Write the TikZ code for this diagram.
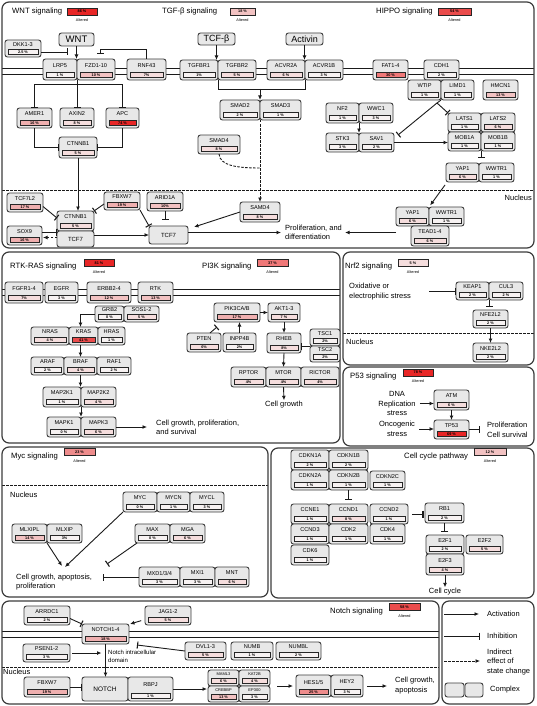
\documentclass[tikz,border=0pt]{standalone}
\usepackage{fontspec}
\setmainfont{Liberation Sans}
\usetikzlibrary{arrows.meta,calc}
\definecolor{linec}{HTML}{1A1A1A}
\definecolor{panelc}{HTML}{3C3C3C}
\definecolor{boxd}{HTML}{3E3E3E}
\definecolor{boxf}{HTML}{E8E8E8}
\definecolor{p0}{HTML}{F7F2F2}
\definecolor{p1}{HTML}{F5DDDD}
\definecolor{p2}{HTML}{F2C2C2}
\definecolor{p2b}{HTML}{EFAFAF}
\definecolor{p3}{HTML}{EE8C8C}
\definecolor{p3b}{HTML}{F07878}
\definecolor{p4}{HTML}{EA4C4C}
\definecolor{p5}{HTML}{E82626}
\tikzset{
 panel/.style={draw=panelc, line width=1.2pt, rounded corners=7pt},
 memb/.style={draw=linec, line width=0.8pt},
 nucl/.style={draw=linec, line width=0.8pt, dash pattern=on 2.5pt off 1.5pt},
 genebox/.style={draw=boxd, fill=boxf, line width=0.9pt, rounded corners=2.5pt, inner sep=0pt, outer sep=0pt},
 genename/.style={font=\fontsize{5.6}{6}\selectfont, inner sep=0pt},
 gbar/.style={draw=black!85, line width=0.6pt, minimum height=5.5pt, inner sep=0pt, outer sep=0pt, font=\fontsize{3.8}{4}\selectfont\bfseries},
 tbar/.style={draw=black!85, line width=0.6pt, minimum height=7pt, inner sep=0pt, font=\fontsize{3.8}{4}\selectfont\bfseries},
 alt/.style={font=\fontsize{3.8}{4}\selectfont, inner sep=0pt},
 title/.style={font=\fontsize{7.7}{9}\selectfont, inner sep=0pt, anchor=west},
 txt/.style={font=\fontsize{7.5}{9.6}\selectfont, inner sep=1pt, align=left},
 ctxt/.style={font=\fontsize{7.5}{9.6}\selectfont, inner sep=1pt, align=center},
 line/.style={draw=linec, line width=0.9pt},
 act/.style={line, -{Latex[length=4.5pt,width=4pt]}},
 inh/.style={line, -{Bar[width=7pt,line width=1.1pt]}},
 indir/.style={act, dash pattern=on 2.5pt off 1.5pt},
 dl/.style={line, dash pattern=on 2.5pt off 1.5pt},
}
\newcommand\gene[8]{%
 \pgfmathsetmacro\gcx{(#2+#4)/2}%
 \pgfmathsetmacro\gcy{(#3+#5)/2}%
 \pgfmathsetmacro\gw{#4-#2}%
 \pgfmathsetmacro\gh{#5-#3}%
 \pgfmathsetmacro\gny{(#3+#5-8)/2}%
 \pgfmathsetmacro\gby{#5-5.25}%
 \pgfmathsetmacro\gbw{#4-#2-6}%
 \node[genebox,minimum width=\gw pt,minimum height=\gh pt] (#1) at (\gcx,\gcy) {};%
 \node[genename] (#1-t) at (\gcx,\gny) {#6};%
 \node[gbar,minimum width=\gbw pt,fill=#7] (#1-b) at (\gcx,\gby) {#8};%
}
\newcommand\lbl[7]{%
 \pgfmathsetmacro\gcx{(#2+#4)/2}%
 \pgfmathsetmacro\gcy{(#3+#5)/2}%
 \pgfmathsetmacro\gw{#4-#2}%
 \pgfmathsetmacro\gh{#5-#3}%
 \node[genebox,minimum width=\gw pt,minimum height=\gh pt,font=#7] (#1) at (\gcx,\gcy) {#6};%
}
\begin{document}
\begin{tikzpicture}[x=1pt,y=-1pt]
\useasboundingbox (0,0) rectangle (536,706);
\fill[white] (0,0) rectangle (536,706);

% ---------- membranes and nucleus lines ----------
\draw[memb] (2,68) -- (534,68);
\draw[memb] (2,74) -- (534,74);
\draw[nucl] (2,190) -- (534,190);
\draw[memb] (2,289) -- (340,289);
\draw[memb] (2,295) -- (340,295);
\draw[nucl] (343,333) -- (534,333);
\draw[nucl] (2,485) -- (268,485);
\draw[memb] (2,631) -- (439,631);
\draw[memb] (2,637) -- (439,637);
\draw[nucl] (2,667) -- (439,667);

% ---------- panels ----------
\draw[panel] (2,2) rectangle (534,248);
\draw[panel] (2,252) rectangle (340,443);
\draw[panel] (343,252) rectangle (534,365);
\draw[panel] (343,367) rectangle (534,446);
\draw[panel] (2,447) rectangle (268,597);
\draw[panel] (271,448) rectangle (534,598);
\draw[panel] (2,601) rectangle (439,704);
\draw[panel] (442,601) rectangle (534,704);

% ---------- titles ----------
\node[title] (wntT) at (12,12) {WNT signaling};
\node[tbar,minimum width=30pt,fill=p5] (wntB) at (82,11.5) {86 \%};
\node[alt] (wntA) at (82,20) {Altered};
\node[title] (tgfT) at (162,12) {TGF-β signaling};
\node[tbar,minimum width=25pt,fill=p2] (tgfB) at (242.5,11.5) {18 \%};
\node[alt] (tgfA) at (242.5,20) {Altered};
\node[title] (hipT) at (376,12) {HIPPO signaling};
\node[tbar,minimum width=33pt,fill=p4] (hipB) at (454.5,11.5) {54 \%};
\node[alt] (hipA) at (454.5,20) {Altered};
\node[title] (rtkT) at (10,267) {RTK-RAS signaling};
\node[tbar,minimum width=30pt,fill=p5] (rtkB) at (99,263) {81 \%};
\node[alt] (rtkA) at (99,272) {Altered};
\node[title] (pikT) at (202,267) {PI3K signaling};
\node[tbar,minimum width=31pt,fill=p3b] (pikB) at (272.5,263) {37 \%};
\node[alt] (pikA) at (272.5,272) {Altered};
\node[title] (nrfT) at (345,267) {Nrf2 signaling};
\node[tbar,minimum width=30pt,fill=p1] (nrfB) at (413,263) {5 \%};
\node[alt] (nrfA) at (413,272) {Altered};
\node[title] (p53T) at (350,377) {P53 signaling};
\node[tbar,minimum width=30pt,fill=p5] (p53B) at (418,372.5) {78 \%};
\node[alt] (p53A) at (418,381.5) {Altered};
\node[title] (mycT0) at (11,457) {Myc signaling};
\node[tbar,minimum width=31pt,fill=p3] (mycB) at (79.5,452) {23 \%};
\node[alt] (mycA) at (79.5,461) {Altered};
\node[title] (ccT) at (404,457) {Cell cycle pathway};
\node[tbar,minimum width=32pt,fill=p2] (ccB) at (490,452) {12 \%};
\node[alt] (ccA) at (490,461) {Altered};
\node[title] (notT) at (330,612) {Notch signaling};
\node[tbar,minimum width=31pt,fill=p4] (notB) at (404.5,607) {58 \%};
\node[alt] (notA) at (404.5,616) {Altered};

% ---------- nucleus labels ----------
\node[txt,anchor=east] (nuc1) at (533,198) {Nucleus};
\node[txt,anchor=west] (nuc2) at (345,342) {Nucleus};
\node[txt,anchor=west] (nuc3) at (9,495) {Nucleus};
\node[txt,anchor=west] (nuc4) at (2,672) {Nucleus};

% ---------- WNT ----------
\lbl{wnt}{59}{33}{94}{46}{WNT}{\fontsize{9.5}{10}\selectfont}
\gene{dkk}{5}{40}{41}{57}{DKK1-3}{p0}{2.5 \%}
\gene{lrp5}{43}{59}{77}{80}{LRP5}{p0}{1 \%}
\gene{fzd}{77}{59}{115}{80}{FZD1-10}{p2}{10 \%}
\gene{rnf}{127}{59}{166}{80}{RNF43}{p1}{7\%}
\gene{amer}{17}{108}{52}{128}{AMER1}{p2b}{16 \%}
\gene{axin}{60}{108}{94}{128}{AXIN2}{p1}{8 \%}
\gene{apc}{106}{108}{139}{128}{APC}{p5}{74 \%}
\gene{ctnnb}{59}{137}{97}{158}{CTNNB1}{p1}{5 \%}
% nucleus WNT
\gene{tcf7l2}{7}{193}{43}{212}{TCF7L2}{p2b}{17 \%}
\gene{ctnnbn}{57}{211}{94}{231}{CTNNB1}{p1}{5 \%}
\lbl{tcf7a}{57}{231}{94}{247}{TCF7}{\fontsize{6}{7}\selectfont}
\gene{sox9}{7}{226}{42}{245}{SOX9}{p2b}{16 \%}
\gene{fbxw7}{104}{192}{140}{210}{FBXW7}{p2b}{19 \%}
\gene{arid}{147}{192}{183}{211}{ARID1A}{p2}{10\%}
\lbl{tcf7b}{149}{226}{188}{244}{TCF7}{\fontsize{6}{7}\selectfont}
\gene{samd4}{240}{202}{280}{222}{SAMD4}{p1}{8 \%}
\node[txt,anchor=west] (prolif) at (284,232.5) {Proliferation, and\\differentiation};

% ---------- TGF-beta ----------
\lbl{tcfb}{198}{33}{235}{45}{TCF-β}{\fontsize{9}{10}\selectfont}
\lbl{activin}{286}{33}{323}{45}{Activin}{\fontsize{9}{10}\selectfont}
\gene{tgfbr1}{180}{60}{218}{80}{TGFBR1}{p0}{1\%}
\gene{tgfbr2}{218}{60}{256}{80}{TGFBR2}{p1}{5 \%}
\gene{acvr2a}{267}{60}{305}{80}{ACVR2A}{p1}{6 \%}
\gene{acvr1b}{305}{60}{343}{80}{ACVR1B}{p0}{3 \%}
\gene{smad2}{220}{100}{260}{120}{SMAD2}{p0}{2 \%}
\gene{smad3}{260}{100}{301}{120}{SMAD3}{p0}{1 \%}
\gene{smad4}{198}{135}{240}{154}{SMAD4}{p1}{8 \%}

% ---------- HIPPO ----------
\gene{fat}{373}{60}{408}{80}{FAT1-4}{p3b}{30 \%}
\gene{cdh1}{424}{60}{459}{80}{CDH1}{p0}{2 \%}
\gene{wtip}{408}{80}{441}{100}{WTIP}{p0}{1 \%}
\gene{limd1}{441}{80}{474}{100}{LIMD1}{p0}{1 \%}
\gene{hmcn1}{483}{80}{518}{100}{HMCN1}{p2}{13 \%}
\gene{nf2}{326}{103}{359}{123}{NF2}{p0}{1 \%}
\gene{wwc1}{359}{103}{393}{123}{WWC1}{p0}{3 \%}
\gene{stk3}{326}{133}{359}{152}{STK3}{p0}{3 \%}
\gene{sav1}{359}{133}{394}{152}{SAV1}{p0}{2 \%}
\gene{lats1}{448}{113}{481}{132}{LATS1}{p0}{1 \%}
\gene{lats2}{481}{113}{515}{132}{LATS2}{p1}{6 \%}
\gene{mob1a}{448}{132}{481}{151}{MOB1A}{p0}{1 \%}
\gene{mob1b}{481}{132}{515}{151}{MOB1B}{p0}{1 \%}
\gene{yap1c}{446}{163}{479}{182}{YAP1}{p1}{6 \%}
\gene{wwtr1c}{479}{163}{514}{182}{WWTR1}{p0}{1 \%}
\gene{yap1n}{396}{207}{429}{226}{YAP1}{p1}{6 \%}
\gene{wwtr1n}{429}{207}{464}{226}{WWTR1}{p0}{1 \%}
\gene{tead}{411}{226}{449}{246}{TEAD1-4}{p1}{6 \%}

% ---------- RTK-RAS ----------
\gene{fgfr}{5}{282}{43}{303}{FGFR1-4}{p1}{7\%}
\gene{egfr}{45}{282}{78}{303}{EGFR}{p0}{3 \%}
\gene{erbb}{87}{282}{131}{303}{ERBB2-4}{p2}{12 \%}
\gene{rtk}{138}{282}{173}{303}{RTK}{p2}{13 \%}
\gene{grb2}{95}{306}{124}{322}{GRB2}{p0}{0 \%}
\gene{sos}{124}{306}{159}{322}{SOS1-2}{p1}{5 \%}
\gene{nras}{31}{327}{69}{345}{NRAS}{p1}{4 \%}
\gene{kras}{69}{327}{98}{345}{KRAS}{p4}{41 \%}
\gene{hras}{98}{327}{125}{345}{HRAS}{p0}{1 \%}
\gene{araf}{31}{357}{64}{375}{ARAF}{p0}{2 \%}
\gene{braf}{64}{357}{97}{375}{BRAF}{p1}{4 \%}
\gene{raf1}{97}{357}{131}{375}{RAF1}{p0}{2 \%}
\gene{map2k1}{43}{387}{81}{407}{MAP2K1}{p0}{1 \%}
\gene{map2k2}{81}{387}{116}{407}{MAP2K2}{p1}{4 \%}
\gene{mapk1}{47}{417}{81}{437}{MAPK1}{p0}{0 \%}
\gene{mapk3}{81}{417}{116}{437}{MAPK3}{p1}{6 \%}
\node[txt,anchor=west] (cgp) at (155,427.5) {Cell growth, proliferation,\\and survival};

% ---------- PI3K ----------
\gene{pik3}{214}{303}{260}{322}{PIK3CA/B}{p2b}{17 \%}
\gene{akt}{268}{303}{300}{322}{AKT1-3}{p1}{7 \%}
\gene{pten}{187}{333}{221}{352}{PTEN}{p1}{6\%}
\gene{inpp}{223}{333}{256}{352}{INPP4B}{p0}{2\%}
\gene{rheb}{267}{333}{301}{353}{RHEB}{p1}{8\%}
\gene{tsc1}{310}{329}{340}{346}{TSC1}{p0}{2\%}
\gene{tsc2}{310}{346}{340}{362}{TSC2}{p0}{2\%}
\gene{rptor}{231}{367}{266}{387}{RPTOR}{p1}{4\%}
\gene{mtor}{266}{367}{301}{387}{MTOR}{p1}{4\%}
\gene{rictor}{301}{367}{339}{387}{RICTOR}{p1}{4\%}
\node[ctxt] (cg) at (284,405) {Cell growth};

% ---------- Nrf2 ----------
\node[txt,anchor=west] (oxid) at (348,291.5) {Oxidative or\\electrophilic stress};
\gene{keap}{456}{282}{489}{300}{KEAP1}{p0}{2 \%}
\gene{cul3}{489}{282}{523}{300}{CUL3}{p0}{2 \%}
\gene{nfe}{473}{310}{508}{328}{NFE2L2}{p0}{2 \%}
\gene{nke}{473}{343}{508}{362}{NKE2L2}{p0}{2 \%}

% ---------- P53 ----------
\node[ctxt] (dna) at (397,403.5) {DNA\\Replication\\stress};
\node[ctxt] (onco) at (397,429) {Oncogenic\\stress};
\gene{atm}{434}{390}{469}{410}{ATM}{p1}{6 \%}
\gene{tp53}{434}{420}{469}{439}{TP53}{p5}{69 \%}
\node[txt,anchor=west] (prolif2) at (486,430) {Proliferation\\Cell survival};

% ---------- Myc ----------
\gene{myc}{123}{492}{157}{512}{MYC}{p0}{0 \%}
\gene{mycn}{157}{492}{190}{512}{MYCN}{p0}{1 \%}
\gene{mycl}{190}{492}{224}{512}{MYCL}{p0}{3 \%}
\gene{mlxipl}{12}{524}{47}{543}{MLXIPL}{p2}{14 \%}
\gene{mlxip}{47}{524}{82}{543}{MLXIP}{p0}{3\%}
\gene{max}{135}{524}{170}{543}{MAX}{p0}{0 \%}
\gene{mga}{170}{524}{205}{543}{MGA}{p1}{6 \%}
\gene{mxd}{139}{567}{180}{587}{MXD1/3/4}{p0}{3 \%}
\gene{mxi1}{180}{567}{215}{587}{MXI1}{p0}{3 \%}
\gene{mnt}{215}{567}{249}{587}{MNT}{p1}{6 \%}
\node[txt,anchor=west] (cga) at (15,582) {Cell growth, apoptosis,\\proliferation};

% ---------- Cell cycle ----------
\gene{cdkn1a}{291}{450}{329}{470}{CDKN1A}{p0}{2 \%}
\gene{cdkn1b}{329}{450}{368}{470}{CDKN1B}{p0}{2 \%}
\gene{cdkn2a}{291}{470}{329}{490}{CDKN2A}{p0}{1 \%}
\gene{cdkn2b}{329}{470}{368}{490}{CDKN2B}{p0}{1 \%}
\gene{cdkn2c}{370}{471}{405}{490}{CDKN2C}{p0}{1 \%}
\gene{ccne1}{291}{504}{329}{524}{CCNE1}{p0}{1 \%}
\gene{ccnd1}{329}{504}{368}{524}{CCND1}{p1}{8 \%}
\gene{ccnd2}{370}{504}{408}{524}{CCND2}{p0}{1 \%}
\gene{ccnd3}{291}{524}{329}{544}{CCND3}{p0}{1 \%}
\gene{cdk2}{329}{524}{368}{544}{CDK2}{p0}{1 \%}
\gene{cdk4}{370}{524}{405}{544}{CDK4}{p0}{1 \%}
\gene{cdk6}{291}{545}{329}{565}{CDK6}{p0}{1 \%}
\gene{rb1}{425}{503}{464}{523}{RB1}{p0}{2 \%}
\gene{e2f1}{426}{535}{464}{554}{E2F1}{p0}{2 \%}
\gene{e2f2}{466}{535}{503}{554}{E2F2}{p1}{5 \%}
\gene{e2f3}{426}{554}{464}{575}{E2F3}{p1}{4 \%}
\node[ctxt] (cc) at (445,592) {Cell cycle};

% ---------- Notch ----------
\gene{arrdc}{24}{606}{70}{625}{ARRDC1}{p0}{2 \%}
\gene{jag}{145}{606}{191}{625}{JAG1-2}{p1}{5 \%}
\gene{notch14}{82}{624}{129}{644}{NOTCH1-4}{p2b}{18 \%}
\gene{psen}{23}{644}{70}{662}{PSEN1-2}{p0}{3 \%}
\node[txt,anchor=west,font=\fontsize{6}{8}\selectfont] (nicd) at (107,656.5) {Notch intracellular\\domain};
\gene{dvl}{185}{642}{226}{660}{DVL1-3}{p1}{5 \%}
\gene{numb}{231}{642}{273}{660}{NUMB}{p0}{1 \%}
\gene{numbl}{276}{642}{321}{660}{NUMBL}{p0}{2 \%}
\gene{fbxw7n}{24}{677}{70}{697}{FBXW7}{p2b}{19 \%}
\lbl{notch}{82}{677}{128}{701}{NOTCH}{\fontsize{6.5}{7}\selectfont}
\gene{rbpj}{128}{677}{173}{701}{RBPJ}{p0}{1 \%}
\begin{scope}[genename/.append style={font=\fontsize{4}{4.5}\selectfont}]
\gene{maml3}{208}{670}{239}{686}{MAML3}{p1}{6 \%}
\gene{kat2b}{239}{670}{270}{686}{KAT2B}{p1}{4 \%}
\gene{crebbp}{208}{686}{239}{702}{CREBBP}{p2}{13 \%}
\gene{ep300}{239}{686}{270}{702}{EP300}{p0}{3 \%}
\end{scope}
\gene{hes}{296}{675}{331}{697}{HES1/5}{p3}{25 \%}
\gene{hey2}{331}{675}{363}{697}{HEY2}{p0}{3 \%}
\node[txt,anchor=west] (cgapo) at (394,685.5) {Cell growth,\\apoptosis};

% ---------- Legend ----------
\node[txt,anchor=west] (lg1) at (486,614) {Activation};
\node[txt,anchor=west] (lg2) at (486,636) {Inhibition};
\node[txt,anchor=west] (lg3) at (486,662) {Indirect\\effect of\\state change};
\node[txt,anchor=west] (lg4) at (489,690) {Complex};
\coordinate (lg1s) at (444,614);
\coordinate (lg2s) at (444,636);
\coordinate (lg3s) at (444,661);
\draw[act,shorten >=7pt] (lg1s) -- (lg1.west);
\draw[inh,shorten >=6pt] (lg2s) -- (lg2.west);
\draw[indir,shorten >=6pt] (lg3s) -- (lg3s -| lg3.west);
\lbl{lc1}{445}{683}{464}{697}{}{\tiny}
\lbl{lc2}{465}{683}{483}{697}{}{\tiny}

% ================= connectors =================
% WNT
\coordinate (dkkT) at (68,52);
\draw[inh] (dkk.east |- dkkT) -- (dkkT);
\draw[act] (wnt.south) -- (wnt.south |- lrp5.north);
\coordinate (rnfT) at (100,54);
\draw[inh] (rnf.north) -- ++(0,-10) -| (rnfT);
\coordinate (wb) at (77,84);
\draw[line] (lrp5.south east) -- (wb);
\draw[inh] (wb) -| (amer.north);
\draw[inh] (wb) -- (wb |- axin.north);
\draw[inh] (wb) -| (apc.north);
\draw[inh] (amer.south) |- (ctnnb.west);
\draw[inh] (apc.south) |- (ctnnb.east);
\draw[act] (ctnnb.south) -- (ctnnb.south |- ctnnbn.north);
\draw[inh] ([yshift=-4pt]tcf7l2.east) -- ([yshift=3pt]ctnnbn.west);
\draw[inh] ([yshift=-3pt]fbxw7.west) -- (ctnnbn.north east);
\draw[inh] (fbxw7.south east) -- (tcf7b.north west);
\draw[inh] (arid.south) -- ++(0,9);
\draw[inh] ([yshift=3.5pt]sox9.east) -- ++(15,0);
\draw[indir] ([yshift=-2pt]sox9.east) ++(15,0) -- ++(-14,0);
\draw[act] (tcf7b.west -| tcf7a.east) -- (tcf7b.west);
\draw[act] (samd4.west) -- ([xshift=6pt,yshift=-1pt]tcf7b.north east);
\draw[act,shorten >=3pt] (tcf7b.east |- prolif.west) -- (prolif.west);
\draw[act,shorten >=2pt] (yap1n.west |- prolif.east) -- (prolif.east);
% TGF
\draw[act] (tcfb.south) -- (tcfb.south |- tgfbr1.north);
\draw[act] (activin.south) -- (activin.south |- acvr2a.north);
\draw[line] (tgfbr1.south east) -- ++(0,9) -| (acvr2a.south east);
\coordinate (tj) at (260,89);
\draw[act] (tj) -- (smad2.north east);
\draw[indir] (smad2.south east) -- (samd4.north);
\coordinate (sm4j) at (260,168);
\draw[dl] (smad4.south) .. controls (220,166) and (238,168) .. (sm4j);
% HIPPO
\draw[act] (nf2.south east) -- (stk3.north east);
\draw[act] (sav1.east) -- (sav1.east -| mob1a.west);
\coordinate (wl) at (437,103);
\draw[line] (wtip.south east) -- (wl);
\draw[inh] (wl) -- (lats1.north west);
\draw[inh] (wl) -- ([xshift=4pt,yshift=-2pt]sav1.north east);
\draw[inh] (mob1a.south east) -- ++(0,7);
\draw[act,shorten >=2pt] ([xshift=-1pt,yshift=-3pt]yap1c.south west) -- (yap1n.north east);
% RTK
\draw[act] (grb2.west) -| (braf.north |- kras.north);
\draw[act] (braf.north |- kras.south) -- (braf.north);
\draw[act] (braf.south) -- (braf.south |- map2k1.north);
\draw[act] (map2k1.south east) -- (mapk1.north east);
\draw[act,shorten >=8pt] (mapk3.east) -- (mapk3.east -| cgp.west);
% PI3K
\draw[act] (pik3.east) -- (akt.west);
\draw[inh] ([xshift=6pt]pten.north) -- ([xshift=3pt,yshift=-5pt]pik3.south west);
\draw[act] (inpp.north) -- (inpp.north |- pik3.south);
\draw[act] (akt.south) -- (akt.south |- rheb.north);
\draw[inh] (tsc1.south west) -- (tsc1.south west -| rheb.east);
\draw[act] (rheb.south) -- (mtor.north);
\draw[act] (mtor.south) -- (cg.north);
% Nrf2
\draw[inh] ([xshift=-27pt]keap.west) -- (keap.west);
\draw[inh] (keap.south east) -- ++(0,7);
\draw[act] (nfe.south) -- (nke.north);
% P53
\draw[act,shorten <=3pt] (dna.east) -- (dna.east -| atm.west);
\draw[act] (atm.south) -- (tp53.north);
\draw[act,shorten <=3pt] (onco.east) -- (onco.east -| tp53.west);
\draw[inh,shorten >=6pt] (tp53.east) -- (tp53.east -| prolif2.west);
% Myc
\coordinate (mycE) at (65,567);
\coordinate (mlxE) at (62,566);
\coordinate (maxE) at (107,564);
\coordinate (mxdE) at (103,577);
\draw[act] (myc.south west) -- (mycE);
\draw[act] (mlxipl.south east) -- (mlxE);
\draw[inh] ([xshift=2pt]max.south west) -- (maxE);
\draw[inh] (mxd.west) -- (mxdE);
% Cell cycle
\draw[inh] (cdkn2b.south) -- ++(0,10);
\draw[inh,shorten <=4pt,shorten >=1.5pt] (ccnd2.east) -- (ccnd2.east -| rb1.west);
\draw[inh] (rb1.south) -- ++(0,9);
\draw[act] (e2f3.south) -- (cc.north);
% Notch
\draw[inh] ([yshift=-3pt]arrdc.east) -- (notch14.north west);
\draw[act,shorten <=4pt] ([yshift=-4pt]jag.west) -- ([xshift=1pt]notch14.north east);
\draw[act,shorten <=2pt,shorten >=4pt] (psen.east) -- (psen.east -| notch14.south);
\draw[act] (notch14.south) -- (notch14.south |- notch.north);
\coordinate (dvlT) at (137,645);
\draw[inh] (dvl.west) -- (dvlT);
\draw[inh] (fbxw7n.east) -- (fbxw7n.east -| notch.west);
\draw[act,shorten >=1pt] (rbpj.east) -- (rbpj.east -| maml3.west);
\draw[act,shorten <=7pt,shorten >=3pt] (kat2b.south east) -- (kat2b.south east -| hes.west);
\draw[act,shorten <=4pt,shorten >=7pt] (hey2.east) -- (hey2.east -| cgapo.west);
\end{tikzpicture}
\end{document}
